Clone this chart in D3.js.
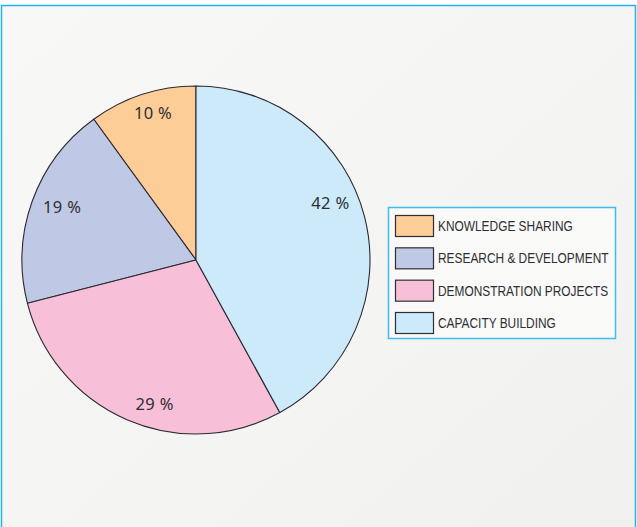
<!DOCTYPE html>
<html>
  <head>
    <meta charset="utf-8" />
    <title>Funding split</title>
    <script src="https://cdn.jsdelivr.net/npm/d3@7"></script>
    <style>
      body { margin: 0; background: #ffffff; }
    </style>
  </head>
  <body>
    <script>
// legend order, top to bottom; the pie runs the same list counter-clockwise from 12 o'clock
var categories = ["KNOWLEDGE SHARING", "RESEARCH & DEVELOPMENT", "DEMONSTRATION PROJECTS", "CAPACITY BUILDING"];
var shares = [10, 19, 29, 42];
var sliceColors = ["#fdcd98", "#bfc8e4", "#f8bfd8", "#cdeafb"];

var w = 637, h = 527,
    cx = 196, cy = 260, radius = 174;

// labels in the original sit a little off the slice middles
var labelNudge = [1.7, 1.8, -7.4, -8.6],
    labelRadius = [153, 144, 150, 146];

var svg = d3.select("body").append("svg")
    .attr("width", w)
    .attr("height", h);

var defs = svg.append("defs");
var bg = defs.append("linearGradient")
    .attr("id", "bg")
    .attr("x1", 0).attr("y1", 0).attr("x2", 1).attr("y2", 1);
bg.append("stop").attr("offset", 0).attr("stop-color", "#f8f9f7");
bg.append("stop").attr("offset", 0.6).attr("stop-color", "#f4f5f2");
bg.append("stop").attr("offset", 1).attr("stop-color", "#f0f1ee");

// outer frame
svg.append("rect")
    .attr("x", 1.5).attr("y", 5.5)
    .attr("width", 634).attr("height", 540)
    .attr("fill", "url(#bg)")
    .attr("stroke", "#22b3ec")
    .attr("stroke-width", 1.5);

var pie = d3.pie()
    .sort(null)
    .value(function(d) { return d; })
    .startAngle(0)
    .endAngle(-2 * Math.PI);

var arcs = pie(shares);

var arc = d3.arc().innerRadius(0).outerRadius(radius);

var g = svg.append("g").attr("transform", "translate(" + cx + "," + cy + ")");

g.selectAll("path")
    .data(arcs)
  .enter().append("path")
    .attr("d", arc)
    .attr("fill", function(d, i) { return sliceColors[i]; })
    .attr("stroke", "#2a2a30")
    .attr("stroke-width", 1.1)
    .attr("stroke-linejoin", "round");

g.selectAll("text")
    .data(arcs)
  .enter().append("text")
    .attr("transform", function(d, i) {
      var a = (d.startAngle + d.endAngle) / 2 + labelNudge[i] * Math.PI / 180,
          r = labelRadius[i];
      return "translate(" + (r * Math.sin(a)) + "," + (-r * Math.cos(a)) + ")";
    })
    .attr("text-anchor", "middle")
    .attr("dy", "0.36em")
    .attr("font-family", "'Noto Sans', 'DejaVu Sans', sans-serif")
    .attr("font-size", 16.5)
    .attr("letter-spacing", 0.3)
    .attr("fill", "#2e2e33")
    .text(function(d) { return d.data + " %"; });

// legend
var legend = svg.append("g");

legend.append("rect")
    .attr("x", 388.5).attr("y", 207.5)
    .attr("width", 227).attr("height", 131)
    .attr("fill", "#f9f9f8")
    .attr("stroke", "#3fbcef")
    .attr("stroke-width", 1.5);

var row = d3.scalePoint()
    .domain(categories)
    .range([226, 323]);

var items = legend.selectAll("g.item")
    .data(categories)
  .enter().append("g")
    .attr("class", "item")
    .attr("transform", function(d) { return "translate(0," + row(d) + ")"; });

items.append("rect")
    .attr("x", 395.5).attr("y", -10.5)
    .attr("width", 38).attr("height", 21)
    .attr("fill", function(d, i) { return sliceColors[i]; })
    .attr("stroke", "#2f2f33")
    .attr("stroke-width", 1.2);

// no narrow face installed, so squeeze the regular one sideways
items.append("text")
    .attr("transform", "translate(438,0) scale(0.85,1)")
    .attr("dy", "0.36em")
    .attr("font-family", "'Liberation Sans', Arial, sans-serif")
    .attr("font-size", 14)
    .attr("fill", "#2e2e33")
    .text(function(d) { return d; });
    </script>
  </body>
</html>
